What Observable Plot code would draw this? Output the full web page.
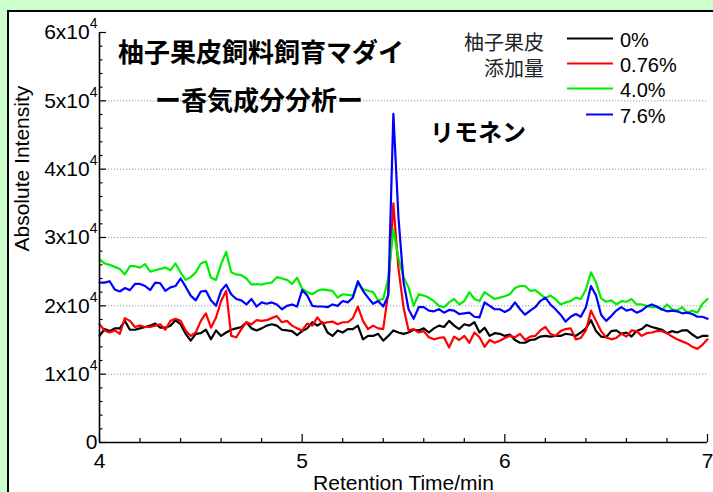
<!DOCTYPE html>
<html><head><meta charset="utf-8">
<script src="https://cdn.jsdelivr.net/npm/d3@7"></script>
<script src="https://cdn.jsdelivr.net/npm/@observablehq/plot@0.6"></script>
<style>
html,body{margin:0;padding:0;}
body{width:713px;height:492px;overflow:hidden;background:#ccffcc;position:relative;font-family:"Liberation Sans",Arial,sans-serif;}
#panel{position:absolute;left:7px;top:10px;width:720px;height:500px;background:#fff;border-top:2px solid #000;border-left:2px solid #000;box-sizing:border-box;}
#chart{position:absolute;left:0;top:0;}
#overlay{position:absolute;left:0;top:0;}
</style></head><body>
<div id="panel"></div>
<div id="chart"></div>
<svg id="overlay" width="713" height="492" xmlns="http://www.w3.org/2000/svg"></svg>
<script>
// ---- data ----
const timeStart = 4.0, timeStep = 0.025; // sampling grid of the chromatogram (min)
const seriesNames = ["0%", "0.76%", "4.0%", "7.6%"];
const seriesColors = ["#000000", "#ff0000", "#00ee00", "#0000ff"];
// intensities in thousands (x10^3)
const int0 = [15.6,16.6,16.3,16.7,16.7,17.8,16.5,16.5,16.7,16.9,
  17.1,17.4,16.8,16.8,17.1,17.9,17.3,15.9,14.9,15.9,
  16.0,16.5,15.1,16.4,15.6,16.1,16.5,16.7,16.9,17.6,
  16.7,16.4,16.7,17.1,17.3,17.1,16.5,16.4,16.3,15.7,
  16.3,16.7,17.6,17.1,17.6,16.1,15.6,16.4,16.1,16.6,
  16.6,17.1,15.1,15.6,15.6,15.9,14.9,15.6,16.4,16.1,
  15.9,16.1,16.5,16.4,16.7,16.1,16.7,17.1,16.9,17.8,
  17.1,16.6,17.3,17.1,17.6,16.1,16.8,15.6,16.0,15.9,
  15.6,15.8,15.0,14.6,14.6,15.0,15.1,15.5,15.6,15.5,
  15.6,15.6,15.9,15.8,15.6,16.1,16.7,17.9,16.3,15.5,
  15.4,16.3,16.4,15.9,16.1,15.5,16.3,16.6,17.2,16.9,
  16.7,16.5,16.0,16.3,16.1,16.4,16.4,15.8,15.3,15.6,15.6];
const int076 = [17.3,16.4,16.1,16.4,15.9,18.2,17.8,16.9,17.1,16.9,
  16.9,17.1,17.3,16.5,17.8,18.1,17.8,16.4,15.6,16.1,
  17.8,18.9,16.8,18.3,20.7,22.2,15.6,15.4,16.6,17.6,
  17.3,17.9,17.8,17.9,18.2,18.5,17.6,17.8,17.1,16.7,
  16.4,17.4,17.1,18.3,17.4,17.6,17.7,17.3,17.6,17.6,
  18.2,19.9,17.8,16.6,17.1,16.7,16.6,22.0,35.0,25.5,
  19.8,16.4,16.6,16.1,16.3,15.4,15.1,15.3,15.4,13.9,
  15.5,15.0,15.6,14.6,16.1,15.4,14.0,15.0,14.6,14.9,
  15.3,15.6,15.4,15.9,15.0,15.5,15.6,16.4,16.9,15.9,
  15.6,16.3,16.6,16.7,15.1,15.3,16.4,19.3,17.8,16.3,
  15.4,15.1,15.3,15.9,15.5,16.4,16.3,15.6,16.0,16.1,
  16.3,16.3,16.0,15.5,15.1,14.8,14.5,14.0,13.7,14.3,15.1];
const int40 = [26.8,26.2,26.0,25.7,25.4,24.6,25.8,25.8,25.6,26.1,
  25.0,25.2,25.4,25.6,25.2,26.2,24.9,23.8,24.2,24.9,
  26.2,26.5,24.1,23.8,26.1,27.9,24.9,24.6,24.5,24.0,
  23.1,23.2,23.1,23.3,23.4,24.2,24.0,23.8,23.2,24.1,
  22.5,22.0,21.7,22.2,22.4,22.3,22.2,21.2,21.7,21.6,
  21.5,23.3,22.4,22.2,22.0,20.8,21.0,24.0,31.2,27.0,
  24.2,22.7,20.0,21.7,21.5,21.2,20.7,20.0,19.8,20.5,
  21.0,20.2,20.7,22.0,21.0,20.7,22.0,21.5,21.0,21.2,
  21.4,21.7,22.6,22.9,22.9,22.2,22.3,21.7,21.1,21.5,
  21.0,20.2,20.5,20.7,21.2,21.0,22.4,24.9,23.4,21.1,
  20.6,20.8,20.2,20.7,20.6,21.0,20.2,20.2,20.0,19.8,
  19.8,19.4,20.2,19.5,19.3,19.8,19.0,19.3,19.0,20.3,21.0];
const int76 = [23.4,23.4,23.6,22.4,22.1,22.6,22.3,23.2,23.2,22.9,
  22.3,23.4,23.3,22.2,22.7,22.9,24.0,22.8,21.5,20.8,
  22.1,22.2,20.8,20.0,22.2,23.1,21.7,21.0,20.8,20.2,
  21.0,19.9,20.5,20.3,20.5,20.2,19.5,20.0,20.2,19.9,
  22.3,21.5,20.0,19.9,19.9,19.8,20.2,20.0,20.7,20.5,
  21.2,23.6,22.2,21.2,20.3,20.7,19.9,21.5,48.1,33.0,
  23.5,19.5,18.1,19.8,19.8,19.3,19.2,19.5,19.0,19.4,
  19.3,18.8,18.9,19.0,18.4,18.3,20.5,20.0,19.5,19.5,
  19.1,19.5,20.5,19.5,18.7,19.3,19.8,20.7,21.2,20.2,
  19.5,18.7,17.7,18.4,18.8,18.4,19.8,22.9,21.5,18.7,
  17.8,18.5,19.3,19.8,19.3,19.5,19.0,19.3,19.9,20.2,
  19.9,19.5,19.2,19.3,19.2,18.9,19.0,18.8,18.4,18.4,18.1];
const seriesValues = [int0, int076, int40, int76];

const yMajorTicks = [0, 10000, 20000, 30000, 40000, 50000, 60000];
const yMinorTicks = [2000,4000,6000,8000,12000,14000,16000,18000,22000,24000,26000,28000,
  32000,34000,36000,38000,42000,44000,46000,48000,52000,54000,56000,58000];
const yGridTicks = [10000, 20000, 30000, 40000, 50000];
const xMajorTicks = [4, 5, 6, 7];
const xMinorTicks = [4.2,4.4,4.6,4.8,5.2,5.4,5.6,5.8,6.2,6.4,6.6,6.8];

const titleText = "柚子果皮飼料飼育マダイ";
const subtitleText = "ー香気成分分析ー";
const peakLabel = "リモネン";
const legendTitle = ["柚子果皮", "添加量"];
const xLabel = "Retention Time/min";
const yLabel = "Absolute Intensity";

// ---- table ----
const records = [];
seriesNames.forEach((name, s) => {
  seriesValues[s].forEach((v, k) => {
    records.push({series: name, time: timeStart + k * timeStep, value: v * 1000});
  });
});

const font = "'Liberation Sans', Arial, sans-serif";
const chart = Plot.plot({
  width: 713, height: 492,
  marginLeft: 99, marginRight: 6, marginTop: 32, marginBottom: 50,
  style: {background: "transparent", fontFamily: font, fontSize: "21px", color: "#000", overflow: "visible"},
  x: {domain: [4, 7], label: null},
  y: {domain: [0, 60000], label: null},
  color: {domain: seriesNames, range: seriesColors},
  marks: [
    Plot.ruleY(yGridTicks, {stroke: "#9a9a9a", strokeDasharray: "1.2,1.8", strokeWidth: 1}),
    Plot.line(records, {x: "time", y: "value", z: "series", stroke: "series", strokeWidth: 2.2, strokeLinejoin: "round"}),
    Plot.ruleX([4], {stroke: "#000", strokeWidth: 1.6}),
    Plot.ruleY([0], {stroke: "#000", strokeWidth: 1.6}),
    Plot.axisY({ticks: yMajorTicks, tickSize: -7, tickFormat: () => "", label: null, strokeWidth: 1.2}),
    Plot.axisY({ticks: yMinorTicks, tickSize: -3.5, tickFormat: () => "", label: null, strokeWidth: 1.2}),
    Plot.axisX({ticks: xMajorTicks, tickSize: -8, tickFormat: () => "", label: null, strokeWidth: 1.2}),
    Plot.axisX({ticks: xMinorTicks, tickSize: -4, tickFormat: () => "", label: null, strokeWidth: 1.2}),
    Plot.axisY({ticks: yMajorTicks, tickSize: 0, tickPadding: 2, fontSize: 21, label: null,
      tickFormat: d => d === 0 ? "0" : `${d / 10000}x10`}),
    Plot.axisX({ticks: xMajorTicks, tickSize: 0, tickPadding: 11, fontSize: 21, label: null, tickFormat: d => `${d}`}),
    Plot.text([yLabel], {frameAnchor: "left", rotate: -90, dx: -77, dy: 14, fontSize: 21}),
    Plot.text([xLabel], {frameAnchor: "bottom", dy: 47, lineAnchor: "bottom", fontSize: 21})
  ]
});
document.getElementById("chart").appendChild(chart);

// superscript exponent on y tick labels
d3.select(chart).selectAll('g[aria-label="y-axis tick label"] text').each(function() {
  const t = d3.select(this);
  if (t.text().endsWith("x10")) {
    t.append("tspan").attr("dy", -11).attr("font-size", 14).text("4");
  }
});

// ---- titles and legend ----
const ov = d3.select("#overlay");
const cjk = "'Noto Sans CJK JP', 'Noto Sans', sans-serif";
ov.append("text").attr("x", 118).attr("y", 50).attr("dominant-baseline", "central")
  .attr("font-family", cjk).attr("font-weight", "bold").attr("font-size", 26).attr("fill", "#000").text(titleText);
ov.append("text").attr("x", 155).attr("y", 98).attr("dominant-baseline", "central")
  .attr("font-family", cjk).attr("font-weight", "bold").attr("font-size", 26).attr("fill", "#000").text(subtitleText);
ov.append("text").attr("x", 430).attr("y", 130).attr("dominant-baseline", "central")
  .attr("font-family", cjk).attr("font-weight", "bold").attr("font-size", 24).attr("fill", "#000").text(peakLabel);
const legTitle = ov.append("text").attr("text-anchor", "end").attr("font-family", cjk)
  .attr("font-size", 20).attr("fill", "#222");
legendTitle.forEach((s, i) => {
  legTitle.append("tspan").attr("x", 544).attr("y", 50 + i * 26).text(s);
});
const legY = [38.5, 63.5, 88.5, 114.5];
const legX1 = [567, 567, 567, 586];
seriesNames.forEach((name, i) => {
  ov.append("line").attr("x1", legX1[i]).attr("x2", 613).attr("y1", legY[i]).attr("y2", legY[i])
    .attr("stroke", seriesColors[i]).attr("stroke-width", 2);
  ov.append("text").attr("x", 620).attr("y", legY[i] + 8).attr("font-family", font)
    .attr("font-size", 20).attr("fill", "#000").text(name);
});
</script>
</body></html>
